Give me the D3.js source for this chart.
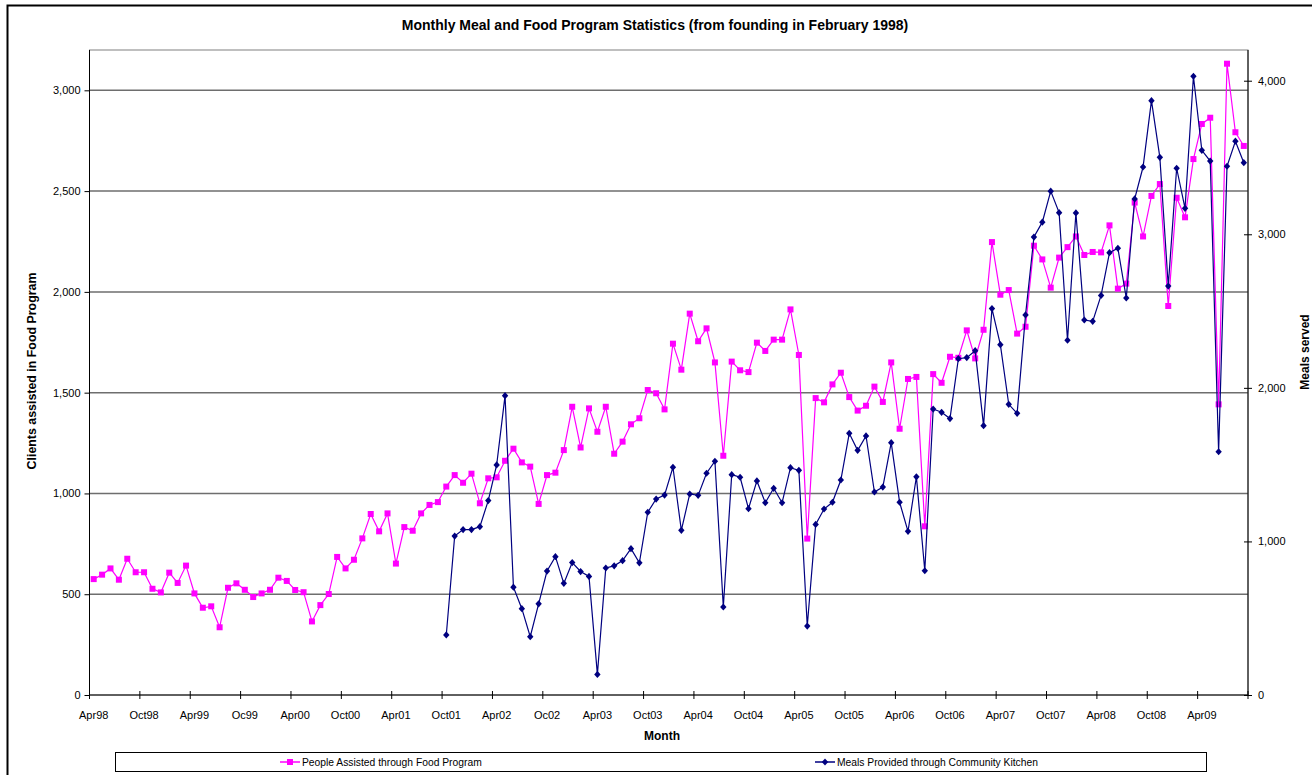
<!DOCTYPE html>
<html>
<head>
<meta charset="utf-8">
<script src="https://cdn.jsdelivr.net/npm/d3@7"></script>
<style>
  body { margin: 0; background: #ffffff; }
  svg { display: block; font-family: "Liberation Sans", Arial, sans-serif; }
</style>
</head>
<body>
<script>
// ---------- DATA ----------
const categories = [
  "Apr98","May98","Jun98","Jul98","Aug98","Sep98","Oct98","Nov98","Dec98",
  "Jan99","Feb99","Mar99","Apr99","May99","Jun99","Jul99","Aug99","Sep99","Oc99","Nov99","Dec99",
  "Jan00","Feb00","Mar00","Apr00","May00","Jun00","Jul00","Aug00","Sep00","Oct00","Nov00","Dec00",
  "Jan01","Feb01","Mar01","Apr01","May01","Jun01","Jul01","Aug01","Sep01","Oct01","Nov01","Dec01",
  "Jan02","Feb02","Mar02","Apr02","May02","Jun02","Jul02","Aug02","Sep02","Oc02","Nov02","Dec02",
  "Jan03","Feb03","Mar03","Apr03","May03","Jun03","Jul03","Aug03","Sep03","Oct03","Nov03","Dec03",
  "Jan04","Feb04","Mar04","Apr04","May04","Jun04","Jul04","Aug04","Sep04","Oct04","Nov04","Dec04",
  "Jan05","Feb05","Mar05","Apr05","May05","Jun05","Jul05","Aug05","Sep05","Oct05","Nov05","Dec05",
  "Jan06","Feb06","Mar06","Apr06","May06","Jun06","Jul06","Aug06","Sep06","Oct06","Nov06","Dec06",
  "Jan07","Feb07","Mar07","Apr07","May07","Jun07","Jul07","Aug07","Sep07","Oct07","Nov07","Dec07",
  "Jan08","Feb08","Mar08","Apr08","May08","Jun08","Jul08","Aug08","Sep08","Oct08","Nov08","Dec08",
  "Jan09","Feb09","Mar09","Apr09","May09","Jun09","Jul09","Aug09","Sep09"
];

const tickLabels = ["Apr98","Oct98","Apr99","Oc99","Apr00","Oct00","Apr01","Oct01","Apr02","Oc02","Apr03","Oct03",
  "Apr04","Oct04","Apr05","Oct05","Apr06","Oct06","Apr07","Oct07","Apr08","Oct08","Apr09"];

// People assisted through Food Program (left axis), Apr98 .. Sep09
const peopleAssisted = [
  575,597,628,572,676,609,609,527,509,607,556,642,504,433,440,336,532,554,522,486,
  504,522,582,566,521,510,365,446,501,685,628,671,777,898,812,901,652,833,815,901,
  943,957,1034,1091,1053,1098,951,1075,1080,1162,1222,1154,1133,948,1091,1103,1215,1430,1228,1422,
  1306,1430,1197,1257,1343,1373,1513,1497,1417,1743,1614,1892,1755,1819,1650,1187,1654,1611,1602,1748,
  1707,1763,1763,1913,1687,776,1473,1452,1541,1599,1478,1411,1435,1530,1454,1650,1321,1568,1578,837,
  1592,1549,1678,1673,1809,1670,1812,2247,1986,2009,1793,1827,2229,2161,2021,2170,2222,2275,2183,2198,
  2196,2330,2016,2041,2443,2275,2476,2535,1930,2467,2370,2659,2833,2864,1442,3132,2792,2724
];

// Meals provided through Community Kitchen (right axis), starting Oct01
const mealsStart = "Oct01";
const mealsProvided = [
  391,1035,1077,1077,1096,1266,1498,1949,702,562,380,594,807,901,727,862,804,772,134,827,
  841,875,953,861,1190,1276,1302,1483,1072,1309,1300,1444,1522,573,1435,1418,1213,1394,1252,1346,
  1252,1480,1463,449,1111,1211,1255,1400,1704,1593,1687,1322,1354,1643,1255,1066,1421,809,1862,1841,
  1800,2190,2197,2242,1754,2516,2281,1893,1834,2475,2982,3079,3281,3141,2310,3139,2442,2433,2602,2880,
  2909,2585,3230,3438,3870,3501,2663,3430,3169,4029,3547,3477,1584,3443,3606,3466
];

const leftTicks = [0,500,1000,1500,2000,2500,3000];
const rightTicks = [0,1000,2000,3000,4000];
const seriesNames = ["People Assisted through Food Program","Meals Provided through Community Kitchen"];

// ---------- LAYOUT ----------
const W = 1312, H = 775;
const plot = { left: 89.5, right: 1248, top: 50, bottom: 695 };
const pink = "#FF00FF", navy = "#000080";

const svg = d3.select("body").append("svg").attr("width", W).attr("height", H);

// chart area border
svg.append("rect").attr("x", 7.5).attr("y", 5.5).attr("width", 1400).attr("height", 900)
  .attr("fill", "#fff").attr("stroke", "#000").attr("stroke-width", 2);

const x = d3.scaleBand().domain(categories).range([plot.left, plot.right]).paddingInner(0).paddingOuter(0);
const bw = x.bandwidth();
const cx = c => x(c) + bw / 2;
const yL = d3.scaleLinear().domain([0, 3200]).range([plot.bottom, plot.top]);
const yR = d3.scaleLinear().domain([0, 4200]).range([plot.bottom, plot.top]);

// plot area border
svg.append("rect").attr("x", plot.left).attr("y", plot.top)
  .attr("width", plot.right - plot.left).attr("height", plot.bottom - plot.top)
  .attr("fill", "none").attr("stroke", "#808080").attr("stroke-width", 1);

// gridlines
svg.append("g").selectAll("line").data(leftTicks.filter(d => d > 0)).join("line")
  .attr("x1", plot.left).attr("x2", plot.right)
  .attr("y1", d => yL(d)).attr("y2", d => yL(d))
  .attr("stroke", "#6e6e6e").attr("stroke-width", 1.5);

// left axis
const gL = svg.append("g").attr("transform", `translate(${plot.left},0)`)
  .call(d3.axisLeft(yL).tickValues(leftTicks).tickFormat(d3.format(",")).tickSize(5).tickPadding(4).tickSizeOuter(0));
gL.select(".domain").attr("stroke", "#000").attr("d", `M0,${plot.bottom}V${plot.top}`);
gL.selectAll("text").attr("font-size", 11).attr("fill", "#000").attr("font-family", "Liberation Sans, Arial, sans-serif");

// right axis
const gR = svg.append("g").attr("transform", `translate(${plot.right},0)`)
  .call(d3.axisRight(yR).tickValues(rightTicks).tickFormat(d3.format(",")).tickSize(4).tickPadding(6).tickSizeOuter(0));
gR.select(".domain").attr("stroke", "#000").attr("d", `M0,${plot.bottom}V${plot.top}`);
gR.selectAll(".tick line").attr("x1", -4).attr("x2", 4);
gR.selectAll("text").attr("font-size", 11).attr("fill", "#000").attr("font-family", "Liberation Sans, Arial, sans-serif");

// bottom axis
const tickCats = categories.filter((c, i) => i % 6 === 0);
const gX = svg.append("g").attr("transform", `translate(0,${plot.bottom})`);
gX.append("line").attr("x1", plot.left).attr("x2", plot.right).attr("y1", 0).attr("y2", 0).attr("stroke", "#000");
gX.selectAll("line.tk").data(tickCats.concat([null])).join("line").attr("class", "tk")
  .attr("x1", d => d ? x(d) : plot.right).attr("x2", d => d ? x(d) : plot.right)
  .attr("y1", -4).attr("y2", 4).attr("stroke", "#000");
gX.selectAll("text").data(tickCats).join("text")
  .attr("x", d => cx(d)).attr("y", 24)
  .attr("text-anchor", "middle").attr("font-size", 11).attr("fill", "#000")
  .text((d, i) => tickLabels[i]);

// series
const peopleData = categories.map((c, i) => ({ c, v: peopleAssisted[i] }));
const startIdx = categories.indexOf(mealsStart);
const mealsData = mealsProvided.map((v, i) => ({ c: categories[startIdx + i], v }));

svg.append("path").datum(peopleData)
  .attr("d", d3.line().x(d => cx(d.c)).y(d => yL(d.v)))
  .attr("fill", "none").attr("stroke", pink).attr("stroke-width", 1.2);
svg.append("g").selectAll("rect").data(peopleData).join("rect")
  .attr("x", d => cx(d.c) - 3).attr("y", d => yL(d.v) - 3)
  .attr("width", 6).attr("height", 6).attr("fill", pink);

svg.append("path").datum(mealsData)
  .attr("d", d3.line().x(d => cx(d.c)).y(d => yR(d.v)))
  .attr("fill", "none").attr("stroke", navy).attr("stroke-width", 1.2);
const diamond = "M0,-3.6L3.2,0L0,3.6L-3.2,0Z";
svg.append("g").selectAll("path").data(mealsData).join("path")
  .attr("transform", d => `translate(${cx(d.c)},${yR(d.v)})`)
  .attr("d", diamond).attr("fill", navy);

// titles
svg.append("text").attr("x", 655).attr("y", 30).attr("text-anchor", "middle")
  .attr("font-size", 14).attr("font-weight", "bold")
  .text("Monthly Meal and Food Program Statistics (from founding in February 1998)");
svg.append("text").attr("x", 662).attr("y", 740).attr("text-anchor", "middle")
  .attr("font-size", 12).attr("font-weight", "bold").text("Month");
svg.append("text").attr("transform", "translate(36,371) rotate(-90)").attr("text-anchor", "middle")
  .attr("font-size", 12.4).attr("font-weight", "bold").text("Clients assisted in Food Program");
svg.append("text").attr("transform", "translate(1309,352) rotate(-90)").attr("text-anchor", "middle")
  .attr("font-size", 12).attr("font-weight", "bold").text("Meals served");

// legend
svg.append("rect").attr("x", 115.5).attr("y", 752.5).attr("width", 1091).attr("height", 19)
  .attr("fill", "#fff").attr("stroke", "#000").attr("stroke-width", 1);
const legendItems = [
  { name: seriesNames[0], color: pink, x: 290, shape: "square" },
  { name: seriesNames[1], color: navy, x: 825, shape: "diamond" }
];
const lg = svg.append("g").selectAll("g").data(legendItems).join("g")
  .attr("transform", d => `translate(${d.x},762)`);
lg.append("line").attr("x1", -10).attr("x2", 10).attr("y1", 0).attr("y2", 0)
  .attr("stroke", d => d.color).attr("stroke-width", 1.5);
lg.append("path").attr("d", d => d.shape === "square" ? "M-3,-3H3V3H-3Z" : diamond).attr("fill", d => d.color);
lg.append("text").attr("x", 12).attr("y", 3.5).attr("font-size", 10.3).attr("fill", "#000").text(d => d.name);
</script>
</body>
</html>
